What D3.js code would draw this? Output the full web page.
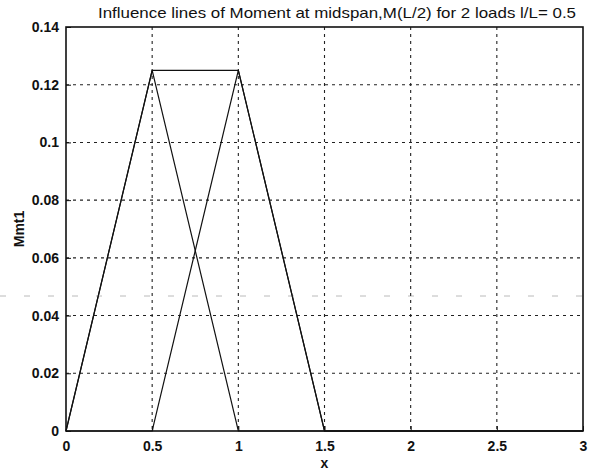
<!DOCTYPE html>
<html>
<head>
<meta charset="utf-8">
<script src="https://cdn.jsdelivr.net/npm/d3@7"></script>
<style>
  html, body { margin: 0; padding: 0; background: #fff; }
  svg { display: block; }
  text { font-family: "Liberation Sans", Arial, Helvetica, sans-serif; fill: #111; }
</style>
</head>
<body>
<svg id="chart" width="600" height="475"></svg>
<script>
// Influence lines for the midspan moment, two unit loads spaced l/L = 0.5
const xLoad1 = [0, 0.5, 1, 1.5, 2, 2.5, 3];
const mLoad1 = [0, 0.125, 0, 0, 0, 0, 0];
const xLoad2 = [0, 0.5, 1, 1.5, 2, 2.5, 3];
const mLoad2 = [0, 0, 0.125, 0, 0, 0, 0];
const xTotal = [0, 0.5, 1, 1.5, 2, 2.5, 3];
const mTotal = [0, 0.125, 0.125, 0, 0, 0, 0];

const xTicks = [0, 0.5, 1, 1.5, 2, 2.5, 3];
const yTicks = [0, 0.02, 0.04, 0.06, 0.08, 0.1, 0.12, 0.14];

const titleText = "Influence lines of Moment at midspan,M(L/2) for 2 loads l/L= 0.5";
const xLabel = "x";
const yLabel = "Mmt1";

const W = 600, H = 475;
const m = { left: 66, right: 17, top: 27, bottom: 44 };
const iw = W - m.left - m.right, ih = H - m.top - m.bottom;

const svg = d3.select("#chart");
const g = svg.append("g").attr("transform", `translate(${m.left},${m.top})`);

const x = d3.scaleLinear().domain([0, 3]).range([0, iw]);
const y = d3.scaleLinear().domain([0, 0.14]).range([ih, 0]);

// dotted grid
g.append("g").selectAll("line").data(xTicks.slice(1, -1)).join("line")
  .attr("x1", d => x(d)).attr("x2", d => x(d)).attr("y1", 0).attr("y2", ih)
  .attr("stroke", "#222").attr("stroke-width", 1.1).attr("stroke-dasharray", "3,4");
g.append("g").selectAll("line").data(yTicks.slice(1, -1)).join("line")
  .attr("y1", d => y(d)).attr("y2", d => y(d)).attr("x1", 0).attr("x2", iw)
  .attr("stroke", "#222").attr("stroke-width", 1.1).attr("stroke-dasharray", "3,4");

// axes with inward ticks
const xAxis = g.append("g").attr("transform", `translate(0,${ih})`)
  .call(d3.axisBottom(x).tickValues(xTicks).tickSizeInner(-5).tickSizeOuter(0).tickPadding(10)
    .tickFormat(d => d3.format("")(d)));
const yAxis = g.append("g")
  .call(d3.axisLeft(y).tickValues(yTicks).tickSizeInner(-5).tickSizeOuter(0).tickPadding(7)
    .tickFormat(d => d3.format("")(+d.toFixed(2))));
[xAxis, yAxis].forEach(a => {
  a.select(".domain").remove();
  a.selectAll("line").attr("stroke", "#111");
  a.selectAll("text").style("font-size", "14px").style("font-weight", "bold")
    .attr("fill", "#111").style("font-family", "'Liberation Sans', Arial, sans-serif");
});

// box frame
g.append("rect").attr("x", 0).attr("y", 0).attr("width", iw).attr("height", ih)
  .attr("fill", "none").attr("stroke", "#111").attr("stroke-width", 1.6);

// curves
const line = d3.line().x(d => x(d[0])).y(d => y(d[1]));
[[xLoad1, mLoad1], [xLoad2, mLoad2], [xTotal, mTotal]].forEach(([xs, ms]) => {
  g.append("path").datum(xs.map((v, i) => [v, ms[i]]))
    .attr("d", line).attr("fill", "none").attr("stroke", "#111").attr("stroke-width", 1.2);
});

// titles
svg.append("text").attr("x", 98).attr("y", 18)
  .attr("textLength", 478).attr("lengthAdjust", "spacingAndGlyphs")
  .style("font-size", "15px").text(titleText);
svg.append("text").attr("x", m.left + iw / 2).attr("y", 468).attr("text-anchor", "middle")
  .style("font-size", "14px").style("font-weight", "bold").text(xLabel);
svg.append("text").attr("transform", `translate(24,${m.top + ih / 2}) rotate(-90)`)
  .attr("text-anchor", "middle").style("font-size", "14px").style("font-weight", "bold").text(yLabel);

// faint streak across the page
svg.append("line").attr("x1", 0).attr("x2", W).attr("y1", 296).attr("y2", 296)
  .attr("stroke", "#555").attr("stroke-width", 0.8).attr("stroke-dasharray", "6,18").attr("opacity", 0.5);
</script>
</body>
</html>
